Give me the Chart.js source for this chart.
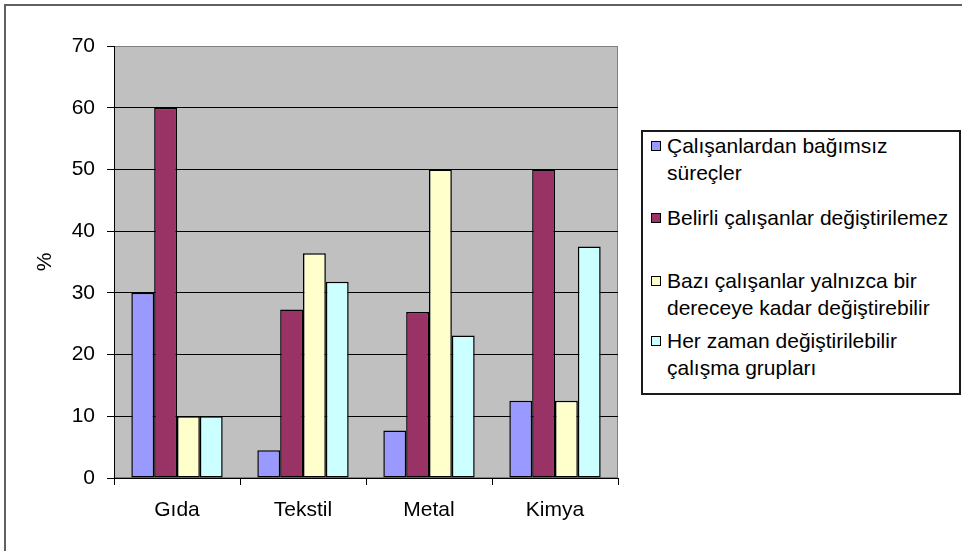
<!DOCTYPE html>
<html>
<head>
<meta charset="utf-8">
<title>Çalışma grupları</title>
<script src="https://cdn.jsdelivr.net/npm/chart.js@4/dist/chart.umd.min.js"></script>
<style>
  body { margin: 0; background: #fff; }
  #wrap { position: relative; width: 962px; height: 551px; overflow: hidden; font-family: "Liberation Sans", Arial, sans-serif; }
  #frame { position: absolute; left: 4px; top: 4px; width: 1000px; height: 600px; border-left: 2px solid #606060; border-top: 2px solid #606060; }
  #chart { position: absolute; left: 0; top: 0; }
  #legend { position: absolute; left: 641px; top: 130px; width: 320px; height: 265px; box-sizing: border-box; border: 2px solid #1a1a1a; background: #fff; }
  .item { position: absolute; left: 0; width: 316px; }
  .box { position: absolute; left: 8px; top: 9px; width: 10px; height: 10px; box-sizing: border-box; border: 1px solid #000; }
  .txt { position: absolute; left: 24px; width: 290px; font-size: 21px; line-height: 27px; color: #000; }
</style>
</head>
<body>
<div id="wrap">
  <div id="frame"></div>
  <canvas id="chart" width="962" height="551"></canvas>
  <div id="legend"></div>
</div>
<script>
var categories = ['Gıda', 'Tekstil', 'Metal', 'Kimya'];

var bagimsiz = [30, 4.5, 7.7, 12.5];
var degistirilemez = [60, 27.3, 26.9, 50];
var birDereceye = [10, 36.4, 50, 12.5];
var herZaman = [10, 31.8, 23.1, 37.5];

var seriesNames = [
    'Çalışanlardan bağımsız süreçler',
    'Belirli çalışanlar değiştirilemez',
    'Bazı çalışanlar yalnızca bir dereceye kadar değiştirebilir',
    'Her zaman değiştirilebilir çalışma grupları'
];
var seriesColors = ['#9999FF', '#993366', '#FFFFCC', '#CCFFFF'];
var seriesData = [bagimsiz, degistirilemez, birDereceye, herZaman];

var yTicks = [0, 10, 20, 30, 40, 50, 60, 70];

// legend entry offsets inside the box
var legendTops = [0, 72, 135, 195];

var font = { family: '"Liberation Sans", Arial, sans-serif', size: 21 };

Chart.defaults.color = '#000';
Chart.defaults.font.family = font.family;

// grey plot background with a thin border
var plotBg = {
    id: 'plotBg',
    beforeDraw: function(chart) {
        var a = chart.chartArea;
        var ctx = chart.ctx;
        ctx.save();
        ctx.fillStyle = '#C0C0C0';
        ctx.fillRect(a.left, a.top, a.right - a.left, a.bottom - a.top);
        ctx.strokeStyle = '#808080';
        ctx.lineWidth = 1;
        ctx.strokeRect(a.left + 0.5, a.top + 0.5, a.right - a.left - 1, a.bottom - a.top - 1);
        ctx.restore();
    }
};

var datasets = seriesNames.map(function(name, i) {
    return {
        label: name,
        data: seriesData[i],
        backgroundColor: seriesColors[i],
        borderColor: '#000',
        borderWidth: 1.5,
        borderSkipped: false,
        categoryPercentage: 0.725,
        barPercentage: 1
    };
});

var ctx = document.getElementById('chart').getContext('2d');
var myChart = new Chart(ctx, {
    type: 'bar',
    data: {
        labels: categories,
        datasets: datasets
    },
    options: {
        responsive: false,
        animation: false,
        devicePixelRatio: 1,
        layout: {
            padding: { left: 0, top: 46, right: 344, bottom: 28 }
        },
        plugins: {
            legend: { display: false },
            tooltip: { enabled: false }
        },
        scales: {
            x: {
                grid: {
                    offset: true,
                    drawOnChartArea: false,
                    drawTicks: true,
                    tickLength: 7,
                    tickColor: '#000'
                },
                border: { color: '#000', width: 1 },
                ticks: { font: font, padding: 13, maxRotation: 0 },
                afterFit: function(scale) { scale.height = 45; }
            },
            y: {
                min: 0,
                max: 70,
                afterBuildTicks: function(scale) {
                    scale.ticks = yTicks.map(function(v) { return { value: v }; });
                },
                grid: {
                    color: function(c) { return c.tick && c.tick.value === 70 ? '#808080' : '#000'; },
                    tickColor: '#000',
                    tickLength: 7,
                    lineWidth: 1
                },
                border: { color: '#000', width: 1 },
                ticks: { font: font, padding: 12 },
                title: {
                    display: true,
                    text: '%',
                    font: font,
                    padding: { top: 33, bottom: 0 }
                },
                afterFit: function(scale) { scale.width = 114; }
            }
        }
    },
    plugins: [plotBg]
});

// legend box
var legend = document.getElementById('legend');
seriesNames.forEach(function(name, i) {
    var item = document.createElement('div');
    item.className = 'item';
    item.style.top = legendTops[i] + 'px';
    var box = document.createElement('div');
    box.className = 'box';
    box.style.background = seriesColors[i];
    var txt = document.createElement('div');
    txt.className = 'txt';
    txt.textContent = name;
    item.appendChild(box);
    item.appendChild(txt);
    legend.appendChild(item);
});
</script>
</body>
</html>
